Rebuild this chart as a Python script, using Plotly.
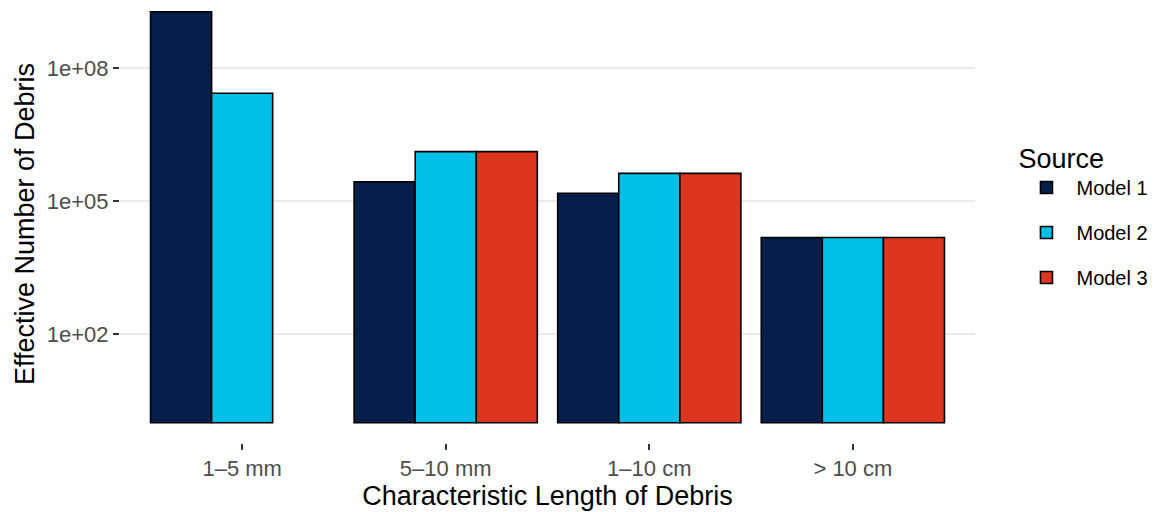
import plotly.graph_objects as go

categories = ["1–5 mm", "5–10 mm", "1–10 cm", "> 10 cm"]
model1 = [1.85e9, 2.7e5, 1.5e5, 1.5e4]
model2 = [2.7e7, 1.3e6, 4.2e5, 1.5e4]
model3 = [None, 1.3e6, 4.2e5, 1.5e4]
series_names = ["Model 1", "Model 2", "Model 3"]
colors = ["#061F4A", "#00BFE6", "#DE361E"]
y_tickvals = [1e2, 1e5, 1e8]
y_ticktext = ["1e+02", "1e+05", "1e+08"]

FONT = "Liberation Sans, Arial, sans-serif"

fig = go.Figure()
for name, vals, col in zip(series_names, [model1, model2, model3], colors):
    fig.add_trace(go.Bar(
        x=categories, y=vals, name=name, base=1, legendgroup=name,
        marker=dict(color=col, line=dict(color="black", width=1.6)),
    ))

fig.update_layout(
    width=1161, height=512,
    margin=dict(l=120, r=186, t=5, b=69),
    paper_bgcolor="white", plot_bgcolor="white",
    barmode="group", bargap=0.1, bargroupgap=0,
    font=dict(family=FONT, size=22, color="#4D4D4D"),
    legend=dict(
        title=dict(text="Source", font=dict(size=27, color="black")),
        font=dict(size=20, color="black"),
        x=1.0485, y=0.708, xanchor="left", yanchor="top",
        itemwidth=50, tracegroupgap=16,
    ),
)
fig.update_xaxes(
    type="category", range=[-0.6, 3.6], automargin=False,
    showgrid=False, zeroline=False, showline=False,
    ticks="outside", ticklen=6, tickwidth=1.5, tickcolor="#333333",
    tickfont=dict(size=22, color="#4D4D4D"),
    title=dict(text="Characteristic Length of Debris", font=dict(size=27, color="black"), standoff=4),
)
fig.update_yaxes(
    type="log", range=[-0.458, 9.42], automargin=False,
    tickvals=y_tickvals, ticktext=y_ticktext,
    showgrid=True, gridcolor="#EBEBEB", gridwidth=1.5,
    zeroline=False, showline=False,
    ticks="outside", ticklen=6, tickwidth=1.5, tickcolor="#333333",
    tickfont=dict(size=22, color="#4D4D4D"),
    title=dict(text="Effective Number of Debris", font=dict(size=27, color="black"), standoff=4),
)

fig.write_html(
    "out.html",
    config={"displayModeBar": False},
    post_script="document.body.style.margin='0';document.body.style.padding='0';",
)
